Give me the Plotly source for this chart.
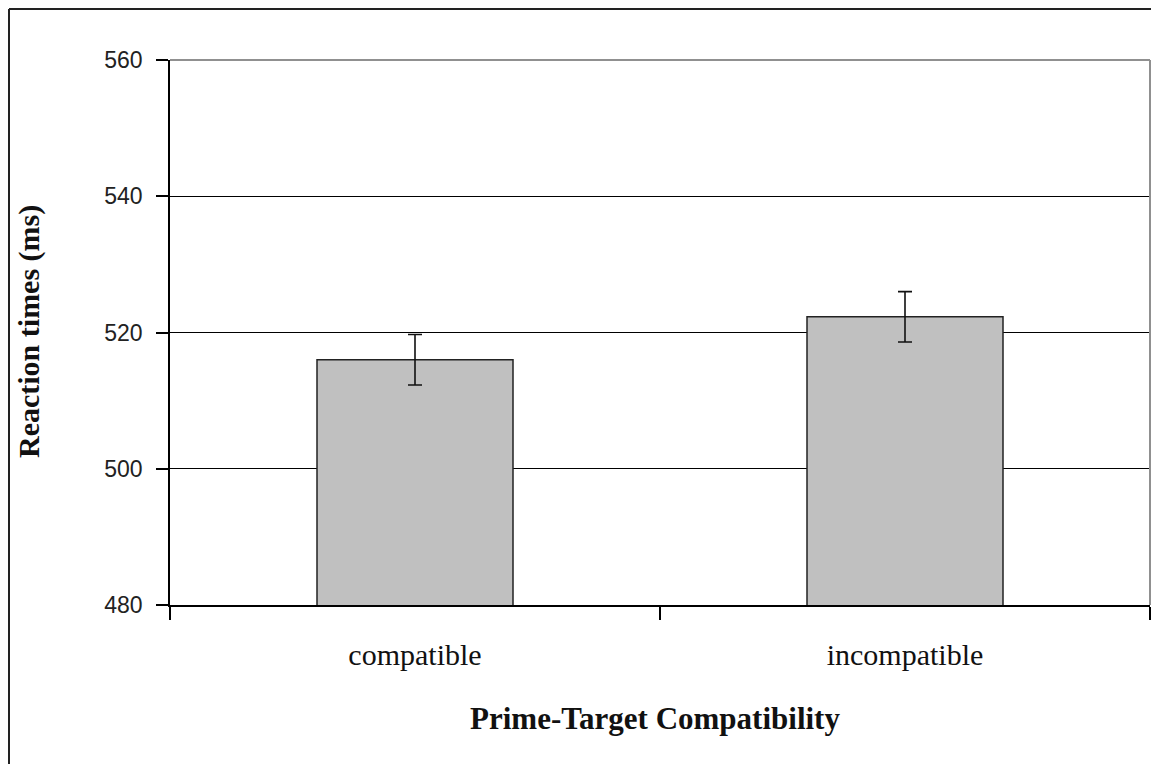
import plotly.graph_objects as go

categories = ["compatible", "incompatible"]
reaction_times = [516.0, 522.3]
error_values = [3.7, 3.7]
y_ticks = [480, 500, 520, 540, 560]

# page body adds an 8px offset; plot area targeted at screen x 170..1150, y 60..605
OFF = 8
L, R_EDGE, T, B_EDGE = 170, 1150, 60, 605
W, H = 1159 - OFF, 764 - OFF
PW, PH = R_EDGE - L, B_EDGE - T


def px(x):
    return (x - L) / PW


def py(y):
    return (B_EDGE - y) / PH


fig = go.Figure()
fig.add_trace(go.Bar(
    x=categories,
    y=reaction_times,
    marker=dict(color="#C0C0C0", line=dict(color="#222222", width=1.5)),
    error_y=dict(type="data", array=error_values, visible=True,
                 color="#111111", thickness=1.6, width=7),
    showlegend=False,
))

fig.update_layout(
    width=W, height=H,
    margin=dict(l=L - OFF, r=W - (R_EDGE - OFF), t=T - OFF, b=H - (B_EDGE - OFF), autoexpand=False),
    paper_bgcolor="white", plot_bgcolor="white",
    bargap=0.6,
    xaxis=dict(
        showline=True, linecolor="black", linewidth=1.5,
        ticks="outside", tickson="boundaries", ticklen=13, tickwidth=1.5, tickcolor="black",
        tickfont=dict(family="Liberation Serif", size=30, color="#111111"),
        ticklabelstandoff=22,
        showgrid=False,
    ),
    yaxis=dict(
        range=[480, 560], tickvals=y_ticks,
        showline=True, linecolor="black", linewidth=1.5,
        ticks="outside", ticklen=12, tickwidth=1.5, tickcolor="black",
        tickfont=dict(family="Liberation Sans", size=23, color="#222222"),
        ticklabelstandoff=9,
        showgrid=True, gridcolor="black", gridwidth=1.2,
        zeroline=False,
    ),
    annotations=[
        dict(text="<b>Reaction times (ms)</b>", xref="paper", yref="paper",
             x=px(29), y=py(332), xanchor="center", yanchor="middle", textangle=-90,
             showarrow=False, font=dict(family="Liberation Serif", size=30, color="#111111")),
        dict(text="<b>Prime-Target Compatibility</b>", xref="paper", yref="paper",
             x=px(655), y=py(718), xanchor="center", yanchor="middle",
             showarrow=False, font=dict(family="Liberation Serif", size=31, color="#111111")),
    ],
    shapes=[
        dict(type="line", xref="paper", yref="paper", x0=1, x1=1, y0=0, y1=1,
             line=dict(color="#909090", width=2)),
        dict(type="line", xref="paper", yref="paper", x0=0, x1=1, y0=1, y1=1,
             line=dict(color="#909090", width=2)),
        dict(type="line", xref="paper", yref="paper",
             x0=px(9), x1=px(9), y0=py(780), y1=py(9),
             line=dict(color="#222222", width=2)),
        dict(type="line", xref="paper", yref="paper",
             x0=px(9), x1=px(1170), y0=py(9), y1=py(9),
             line=dict(color="#222222", width=2)),
    ],
)

fig.write_html("out.html")
